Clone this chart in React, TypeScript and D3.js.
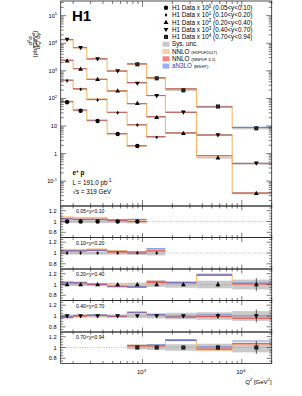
import * as d3 from 'd3';
import React from 'react';

// Q2 binning (GeV^2) and the point positions inside the bins
const q2Edges = [150, 200, 275, 440, 700, 1100, 1700, 3500, 8000, 20000];
const q2Points = [174, 238, 353, 562, 887, 1390, 2580, 5750, 14000];

// y bins
const yBinLabels = ['0.05<y<0.10', '0.10<y<0.20', '0.20<y<0.40', '0.40<y<0.70', '0.70<y<0.94'];
const scalePowers = [0, 1, 2, 3, 4];
const firstBin = [0, 0, 0, 0, 4];

// measured d2sigma/dQ2dy [pb/GeV2], not scaled
const xsecY005 = [72.2, 35.8, 15.2, 5.13, 1.88];
const xsecY010 = [43.8, 21.3, 8.75, 3.03, 1.09, 0.39];
const xsecY020 = [23.2, 11.6, 4.92, 1.9, 0.664, 0.207, 0.0544, 0.0071, 0.000365];
const xsecY040 = [13.8, 6.87, 2.68, 0.984, 0.352, 0.125, 0.0316, 0.00472, 0.000445];
const xsecY070 = [0.172, 0.0535, 0.0196, 0.00509, 0.000826];
const xsec = [xsecY005, xsecY010, xsecY020, xsecY040, xsecY070];

// relative uncertainties per Q2 bin
const sysUnc = [0.03, 0.03, 0.03, 0.03, 0.035, 0.045, 0.06, 0.07, 0.09];
const statUnc = [0.004, 0.004, 0.005, 0.007, 0.012, 0.02, 0.03, 0.05, 0.12];

// theory / data
const ratioH1pdf = [
  [1.08, 1.07, 1.07, 1.03, 1.03],
  [1.06, 1.06, 1.07, 1.04, 1.02, 1.06],
  [1.05, 1.04, 1.01, 0.99, 0.98, 1.06, 1.04, 1.18, 1.02],
  [0.98, 1.0, 1.01, 1.0, 1.06, 1.02, 0.99, 1.0, 0.98],
  [1.04, 1.04, 1.13, 0.96, 1.07],
];
const ratioNnpdf = [
  [1.05, 1.04, 1.04, 1.02, 1.0],
  [1.04, 1.04, 1.05, 1.02, 1.0, 1.04],
  [1.03, 1.03, 1.0, 0.96, 0.95, 1.04, 1.03, 1.17, 1.01],
  [0.97, 1.0, 1.01, 0.99, 1.07, 1.02, 0.98, 0.99, 0.96],
  [1.03, 1.03, 1.14, 0.97, 1.07],
];
const ratioMsht = [
  [1.05, 1.04, 1.04, 1.03, 1.04],
  [1.04, 1.04, 1.05, 1.03, 1.02, 1.08],
  [1.04, 1.03, 1.01, 0.97, 0.96, 1.06, 1.04, 1.19, 1.03],
  [0.99, 1.01, 1.02, 1.0, 1.06, 1.03, 1.0, 1.02, 1.0],
  [1.04, 1.05, 1.13, 1.01, 1.12],
];

const legendData = ['(0.05<y<0.10)', '(0.10<y<0.20)', '(0.20<y<0.40)', '(0.40<y<0.70)', '(0.70<y<0.94)'];

const FONT = '"Liberation Sans", Arial, Helvetica, sans-serif';
const ORANGE = '#f7b868';
const ORANGE_DARK = '#e47a2c';
const ORANGE_BAND = '#fcdcb0';
const RED = '#e5403a';
const BLUE = '#4f73e3';
const GREY = '#c9c9c9';

const L = 60.7, R = 271.7, T = 1, MB = 206, PH = 31.5;

const x = d3.scaleLog().domain([150, 20000]).range([L, R]);
const yMain = d3.scaleLog().domain([0.0126, 3.4e5]).range([MB, T]);

const xTicks: { v: number; major: boolean }[] = [];
[100, 1000, 10000].forEach(dec => {
  for (let d = 1; d <= 9; d++) {
    const v = d * dec;
    if (v >= 150 && v <= 20000) xTicks.push({ v, major: d === 1 });
  }
});

function Marker({ kind, cx, cy }: { kind: number; cx: number; cy: number }) {
  if (kind === 0) return <circle cx={cx} cy={cy} r={2.2} fill="#000" />;
  if (kind === 1)
    return <path d={`M${cx},${cy - 1.9}L${cx + 1.3},${cy}L${cx},${cy + 1.9}L${cx - 1.3},${cy}Z`} fill="#000" />;
  if (kind === 2)
    return <path d={`M${cx},${cy - 2.5}L${cx + 2.4},${cy + 1.7}L${cx - 2.4},${cy + 1.7}Z`} fill="#000" />;
  if (kind === 3)
    return <path d={`M${cx},${cy + 2.5}L${cx + 2.4},${cy - 1.7}L${cx - 2.4},${cy - 1.7}Z`} fill="#000" />;
  return (
    <g>
      <rect x={cx - 2} y={cy - 2} width={4} height={4} fill="#000" />
      <path d={`M${cx - 1.6},${cy - 1.6}L${cx + 1.6},${cy + 1.6}M${cx + 1.6},${cy - 1.6}L${cx - 1.6},${cy + 1.6}`} stroke="#777" strokeWidth={0.5} />
    </g>
  );
}

function stepPts(first: number, vals: number[]) {
  const pts: [number, number][] = [];
  vals.forEach((v, i) => {
    pts.push([q2Edges[first + i], v]);
    pts.push([q2Edges[first + i + 1], v]);
  });
  return pts;
}

// base^exp followed by optional text back on the baseline
function Pow({ base, exp, after }: { base: string; exp: string; after?: string }) {
  return (
    <>
      {base}
      <tspan dy={-2.3} fontSize="0.72em">{exp}</tspan>
      {after ? <tspan dy={2.3}>{after}</tspan> : null}
    </>
  );
}

function MainPanel() {
  const yTicks: { v: number; major: boolean }[] = [];
  for (let k = -2; k <= 5; k++) {
    for (let d = 1; d <= 9; d++) {
      const v = d * Math.pow(10, k);
      if (v >= 0.0126 && v <= 3.4e5) yTicks.push({ v, major: d === 1 });
    }
  }
  const els: React.ReactNode[] = [];
  xsec.forEach((vals, s) => {
    const f = Math.pow(10, scalePowers[s]);
    const first = firstBin[s];
    // sys band
    vals.forEach((v, i) => {
      const b = first + i;
      const y0 = yMain(v * f * (1 + sysUnc[b]));
      const y1 = yMain(v * f * (1 - sysUnc[b]));
      els.push(<rect key={`sb${s}-${i}`} x={x(q2Edges[b])} width={x(q2Edges[b + 1]) - x(q2Edges[b])} y={y0} height={Math.max(y1 - y0, 0.8)} fill={GREY} />);
    });
    const h1 = vals.map((v, i) => v * f * ratioH1pdf[s][i]);
    const area = d3.area<[number, number]>().x(d => x(d[0])).y0(d => yMain(d[1] * 0.975)).y1(d => yMain(d[1] * 1.025));
    const line = d3.line<[number, number]>().x(d => x(d[0])).y(d => yMain(d[1]));
    els.push(<path key={`ba${s}`} d={area(stepPts(first, h1)) || ''} fill={ORANGE_BAND} opacity={0.8} />);
    els.push(<path key={`bl${s}`} d={line(stepPts(first, h1)) || ''} fill="none" stroke={ORANGE} strokeWidth={1.1} />);
    h1.forEach((v, i) => {
      const b = first + i;
      els.push(<line key={`hd${s}-${i}`} x1={x(q2Edges[b])} x2={x(q2Edges[b + 1])} y1={yMain(v)} y2={yMain(v)} stroke={ORANGE_DARK} strokeWidth={0.9} />);
    });
    [ratioNnpdf, ratioMsht].forEach((rat, t) => {
      vals.forEach((v, i) => {
        const b = first + i;
        const yy = yMain(v * f * rat[s][i]);
        els.push(<line key={`th${t}-${s}-${i}`} x1={x(q2Edges[b])} x2={x(q2Edges[b + 1])} y1={yy} y2={yy} stroke={t === 0 ? RED : BLUE} strokeWidth={0.5} opacity={0.7} />);
      });
    });
    vals.forEach((v, i) => {
      const b = first + i;
      els.push(<Marker key={`m${s}-${i}`} kind={s} cx={x(q2Points[b])} cy={yMain(v * f)} />);
    });
  });

  return (
    <g>
      {els}
      {/* frame & ticks */}
      <rect x={L} y={T} width={R - L} height={MB - T} fill="none" stroke="#222" strokeWidth={0.8} />
      {xTicks.map((t, i) => (
        <g key={`xt${i}`} stroke="#222" strokeWidth={0.6}>
          <line x1={x(t.v)} x2={x(t.v)} y1={T} y2={T + (t.major ? 6 : 3)} />
          <line x1={x(t.v)} x2={x(t.v)} y1={MB} y2={MB - (t.major ? 6 : 3)} />
        </g>
      ))}
      {yTicks.map((t, i) => (
        <g key={`yt${i}`} stroke="#222" strokeWidth={0.6}>
          <line x1={L} x2={L + (t.major ? 5.5 : 3)} y1={yMain(t.v)} y2={yMain(t.v)} />
          <line x1={R} x2={R - (t.major ? 5.5 : 3)} y1={yMain(t.v)} y2={yMain(t.v)} />
        </g>
      ))}
      {[-1, 0, 1, 2, 3, 4, 5].map(k => (
        <text key={`yl${k}`} x={57} y={yMain(Math.pow(10, k)) + 2} textAnchor="end" fontSize={5.6} fontFamily={FONT}>
          {k === 0 ? '1' : k === 1 ? '10' : <Pow base="10" exp={String(k)} />}
        </text>
      ))}
      {/* y title */}
      <g fontFamily={FONT} fontSize={6}>
        <text transform="translate(32.3,40.8) rotate(-90)" textAnchor="middle"><Pow base="d" exp="2" after="σ" /></text>
        <line x1={33.8} x2={33.8} y1={33} y2={48.5} stroke="#000" strokeWidth={0.4} />
        <text transform="translate(39.6,40.8) rotate(-90)" textAnchor="middle"><Pow base="dQ" exp="2" after="dy" /></text>
        <text transform="translate(36.5,31) rotate(-90)" textAnchor="end">[pb/GeV<tspan dy={-2} fontSize="0.72em">2</tspan><tspan dy={2}>]</tspan></text>
      </g>
      <text x={72} y={21} fontSize={15} fontWeight="bold" fontFamily={FONT}>H1</text>
      <g fontFamily={FONT} fontSize={6.3}>
        <text x={72.5} y={175} fontWeight="bold"><Pow base="e" exp="+" after=" p" /></text>
        <text x={72.5} y={184.5}><Pow base="L = 191.0 pb" exp="-1" /></text>
        <text x={72.5} y={194}>√s = 319 GeV</text>
      </g>
    </g>
  );
}

function RatioPanel({ s }: { s: number }) {
  const top = MB + s * PH;
  const bot = top + PH;
  const y = d3.scaleLinear().domain([0.704, 1.287]).range([bot, top]);
  const first = firstBin[s];
  const vals = xsec[s];
  const els: React.ReactNode[] = [];
  vals.forEach((_, i) => {
    const b = first + i;
    els.push(<rect key={`g${i}`} x={x(q2Edges[b])} width={x(q2Edges[b + 1]) - x(q2Edges[b])} y={y(1 + sysUnc[b])} height={y(1 - sysUnc[b]) - y(1 + sysUnc[b])} fill={GREY} />);
  });
  els.push(<line key="one" x1={L} x2={R} y1={y(1)} y2={y(1)} stroke="#888" strokeWidth={0.5} strokeDasharray="1.2,1.2" />);
  const area = d3.area<[number, number]>().x(d => x(d[0])).y0(d => y(d[1] - 0.02)).y1(d => y(d[1] + 0.02));
  const line = d3.line<[number, number]>().x(d => x(d[0])).y(d => y(d[1]));
  const h1 = stepPts(first, ratioH1pdf[s]);
  els.push(<path key="oa" d={area(h1) || ''} fill={ORANGE_BAND} opacity={0.85} />);
  els.push(<path key="ol" d={line(h1) || ''} fill="none" stroke={ORANGE} strokeWidth={1} />);
  ratioNnpdf[s].forEach((r, i) => {
    const b = first + i;
    els.push(<rect key={`rb${i}`} x={x(q2Edges[b])} width={x(q2Edges[b + 1]) - x(q2Edges[b])} y={y(r + 0.012)} height={y(r - 0.012) - y(r + 0.012)} fill="url(#hatchRed)" opacity={0.8} />);
    els.push(<line key={`rl${i}`} x1={x(q2Edges[b])} x2={x(q2Edges[b + 1])} y1={y(r)} y2={y(r)} stroke={RED} strokeWidth={0.8} />);
  });
  ratioMsht[s].forEach((r, i) => {
    const b = first + i;
    els.push(<line key={`bl${i}`} x1={x(q2Edges[b])} x2={x(q2Edges[b + 1])} y1={y(r)} y2={y(r)} stroke={BLUE} strokeWidth={0.8} />);
  });
  vals.forEach((_, i) => {
    const b = first + i;
    const cx = x(q2Points[b]);
    els.push(<line key={`e${i}`} x1={cx} x2={cx} y1={y(1 + statUnc[b])} y2={y(1 - statUnc[b])} stroke="#000" strokeWidth={0.6} />);
    els.push(<Marker key={`m${i}`} kind={s} cx={cx} cy={y(1)} />);
  });
  const yT: { v: number; major: boolean }[] = [];
  for (let v = 0.75; v <= 1.26; v += 0.05) {
    const vv = Math.round(v * 100) / 100;
    yT.push({ v: vv, major: Math.abs(vv - 0.8) < 1e-6 || Math.abs(vv - 1) < 1e-6 || Math.abs(vv - 1.2) < 1e-6 });
  }
  return (
    <g>
      <defs>
        <clipPath id={`clip${s}`}><rect x={L} y={top} width={R - L} height={PH} /></clipPath>
      </defs>
      <g clipPath={`url(#clip${s})`}>{els}</g>
      <rect x={L} y={top} width={R - L} height={PH} fill="none" stroke="#222" strokeWidth={0.8} />
      {xTicks.map((t, i) => (
        <g key={`xt${i}`} stroke="#222" strokeWidth={0.6}>
          <line x1={x(t.v)} x2={x(t.v)} y1={top} y2={top + (t.major ? 4.5 : 2.5)} />
          <line x1={x(t.v)} x2={x(t.v)} y1={bot} y2={bot - (t.major ? 4.5 : 2.5)} />
        </g>
      ))}
      {yT.map((t, i) => (
        <g key={`yt${i}`} stroke="#222" strokeWidth={0.6}>
          <line x1={L} x2={L + (t.major ? 5 : 2.5)} y1={y(t.v)} y2={y(t.v)} />
          <line x1={R} x2={R - (t.major ? 5 : 2.5)} y1={y(t.v)} y2={y(t.v)} />
        </g>
      ))}
      {[0.8, 1, 1.2].map(v => (
        <text key={`yl${v}`} x={56.5} y={y(v) + 2} textAnchor="end" fontSize={5.6} fontFamily={FONT}>{v === 1 ? '1' : String(v)}</text>
      ))}
      <text x={76} y={top + 7} fontSize={5.1} fontFamily={FONT}>{yBinLabels[s]}</text>
    </g>
  );
}

function Legend() {
  const ly = (i: number) => 7.7 + i * 7.3;
  return (
    <g fontFamily={FONT} fontSize={6.3}>
      {legendData.map((lab, i) => (
        <g key={`ld${i}`}>
          <Marker kind={i} cx={166} cy={ly(i)} />
          <text x={172} y={ly(i) + 2.2}><Pow base="H1 Data x 10" exp={String(scalePowers[i])} after={' ' + lab} /></text>
        </g>
      ))}
      <rect x={162.5} y={ly(5) - 2.5} width={7} height={5} fill={GREY} />
      <text x={172} y={ly(5) + 2.2}>Sys. unc.</text>
      <rect x={162.5} y={ly(6) - 2.5} width={7} height={5} fill="url(#hatchOrange)" />
      <text x={172} y={ly(6) + 2.2}>NNLO <tspan fontSize={4.2}>(H1PDF2017)</tspan></text>
      <rect x={162.5} y={ly(7) - 2.5} width={7} height={5} fill="url(#hatchRed)" />
      <text x={172} y={ly(7) + 2.2}>NNLO <tspan fontSize={4.2}>(NNPDF 3.1)</tspan></text>
      <rect x={162.5} y={ly(8) - 2.5} width={7} height={5} fill="url(#hatchBlue)" />
      <text x={172} y={ly(8) + 2.2} fill="#2a3fb0">aN3LO <tspan fontSize={4.2} fill="#000">(MSHT)</tspan></text>
    </g>
  );
}

export default function App() {
  return (
    <div style={{ position: 'absolute', left: 0, top: 0 }}>
      <svg width={302} height={396} style={{ display: 'block', background: '#fff' }}>
        <defs>
          <pattern id="hatchOrange" width={2} height={2} patternUnits="userSpaceOnUse" patternTransform="rotate(45)">
            <rect width={2} height={2} fill="#fde3bf" />
            <line x1={0} y1={0} x2={0} y2={2} stroke={ORANGE_DARK} strokeWidth={0.8} />
          </pattern>
          <pattern id="hatchRed" width={2} height={2} patternUnits="userSpaceOnUse">
            <rect width={2} height={2} fill="#f9d0cd" />
            <path d="M0,0L2,2M2,0L0,2" stroke={RED} strokeWidth={0.5} />
          </pattern>
          <pattern id="hatchBlue" width={2} height={2} patternUnits="userSpaceOnUse">
            <rect width={2} height={2} fill="#d6defa" />
            <path d="M1,0L1,2M0,1L2,1" stroke={BLUE} strokeWidth={0.5} />
          </pattern>
        </defs>
        <MainPanel />
        {yBinLabels.map((_, s) => <RatioPanel key={s} s={s} />)}
        <Legend />
        <g fontFamily={FONT} fontSize={6}>
          <text x={x(1000) - 1} y={374} textAnchor="middle"><Pow base="10" exp="3" /></text>
          <text x={x(10000) - 1} y={374} textAnchor="middle"><Pow base="10" exp="4" /></text>
          <text x={R} y={383.5} textAnchor="end">Q<tspan dy={-2.2} fontSize="0.72em">2</tspan><tspan dy={2.2}> [GeV</tspan><tspan dy={-2.2} fontSize="0.72em">2</tspan><tspan dy={2.2}>]</tspan></text>
        </g>
      </svg>
    </div>
  );
}
